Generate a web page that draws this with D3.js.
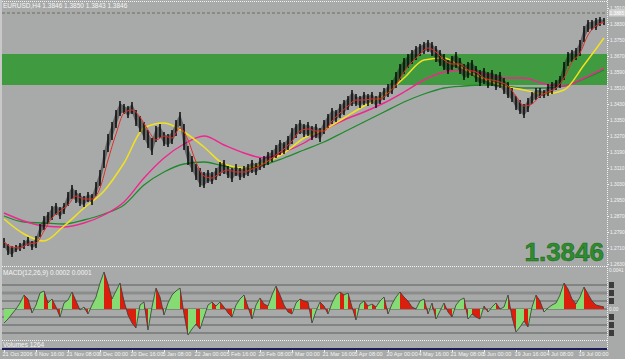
<!DOCTYPE html>
<html><head><meta charset="utf-8">
<script src="https://cdn.jsdelivr.net/npm/d3@7"></script>
<style>html,body{margin:0;padding:0;background:#a8aaaa;overflow:hidden}</style>
</head><body><svg id="c" width="625" height="359"></svg>
<script>
// ---- data (EURUSD, H4) ----
const priceHigh = [1.2760,1.2730,1.2720,1.2725,1.2735,1.2750,1.2765,1.2745,1.2770,1.2830,1.2870,1.2890,1.2920,1.2935,1.2915,1.2935,1.2990,1.3025,1.3000,1.2985,1.2970,1.2990,1.2980,1.3040,1.3100,1.3200,1.3280,1.3340,1.3400,1.3445,1.3430,1.3420,1.3440,1.3400,1.3370,1.3340,1.3300,1.3260,1.3320,1.3330,1.3290,1.3280,1.3300,1.3350,1.3390,1.3330,1.3220,1.3170,1.3130,1.3110,1.3090,1.3100,1.3090,1.3110,1.3140,1.3150,1.3120,1.3110,1.3130,1.3110,1.3120,1.3130,1.3150,1.3135,1.3160,1.3170,1.3190,1.3200,1.3225,1.3250,1.3240,1.3270,1.3310,1.3330,1.3350,1.3330,1.3340,1.3320,1.3330,1.3310,1.3350,1.3380,1.3410,1.3400,1.3430,1.3450,1.3470,1.3500,1.3480,1.3470,1.3490,1.3480,1.3490,1.3470,1.3490,1.3510,1.3530,1.3550,1.3590,1.3630,1.3660,1.3680,1.3700,1.3720,1.3730,1.3740,1.3750,1.3740,1.3720,1.3700,1.3680,1.3650,1.3670,1.3690,1.3660,1.3630,1.3640,1.3650,1.3620,1.3600,1.3610,1.3590,1.3600,1.3580,1.3590,1.3560,1.3540,1.3510,1.3470,1.3450,1.3430,1.3460,1.3490,1.3510,1.3510,1.3500,1.3530,1.3540,1.3550,1.3570,1.3640,1.3690,1.3700,1.3710,1.3750,1.3820,1.3850,1.3850,1.3860,1.3865,1.3860];
const priceLow = [1.2710,1.2675,1.2665,1.2690,1.2695,1.2705,1.2720,1.2700,1.2710,1.2765,1.2800,1.2830,1.2850,1.2875,1.2855,1.2880,1.2920,1.2955,1.2935,1.2920,1.2915,1.2940,1.2925,1.2970,1.3020,1.3110,1.3190,1.3250,1.3310,1.3370,1.3380,1.3360,1.3380,1.3320,1.3290,1.3250,1.3210,1.3175,1.3240,1.3260,1.3220,1.3215,1.3230,1.3270,1.3320,1.3200,1.3125,1.3090,1.3050,1.3015,1.3010,1.3035,1.3030,1.3050,1.3070,1.3080,1.3060,1.3040,1.3070,1.3050,1.3060,1.3070,1.3085,1.3075,1.3100,1.3110,1.3125,1.3140,1.3160,1.3175,1.3180,1.3200,1.3230,1.3260,1.3280,1.3265,1.3270,1.3250,1.3260,1.3240,1.3280,1.3310,1.3330,1.3340,1.3360,1.3375,1.3400,1.3420,1.3420,1.3410,1.3425,1.3420,1.3430,1.3410,1.3430,1.3450,1.3465,1.3480,1.3510,1.3550,1.3580,1.3610,1.3630,1.3650,1.3670,1.3680,1.3690,1.3670,1.3640,1.3620,1.3600,1.3580,1.3600,1.3610,1.3580,1.3550,1.3560,1.3570,1.3540,1.3520,1.3530,1.3510,1.3520,1.3500,1.3510,1.3480,1.3460,1.3440,1.3400,1.3380,1.3360,1.3390,1.3430,1.3450,1.3460,1.3460,1.3470,1.3480,1.3500,1.3510,1.3550,1.3620,1.3640,1.3650,1.3670,1.3740,1.3790,1.3800,1.3800,1.3820,1.3825];
// fast MA, one value every 2 bars
const maRed = [1.2740,1.2715,1.2710,1.2730,1.2735,1.2795,1.2860,1.2895,1.2925,1.2970,1.2955,1.2955,1.3010,1.3150,1.3280,1.3385,1.3400,1.3365,1.3300,1.3250,1.3270,1.3260,1.3310,1.3250,1.3140,1.3070,1.3060,1.3085,1.3100,1.3090,1.3090,1.3105,1.3120,1.3145,1.3175,1.3205,1.3245,1.3295,1.3305,1.3295,1.3295,1.3345,1.3385,1.3420,1.3450,1.3450,1.3455,1.3455,1.3485,1.3525,1.3590,1.3640,1.3680,1.3710,1.3690,1.3650,1.3630,1.3630,1.3600,1.3590,1.3560,1.3550,1.3540,1.3520,1.3470,1.3420,1.3430,1.3470,1.3490,1.3510,1.3560,1.3640,1.3685,1.3775,1.3820,1.3840];
// slower MAs, one value every 5 bars
const maYellow = [1.2855,1.2780,1.2745,1.2820,1.2910,1.2995,1.3135,1.3310,1.3335,1.3290,1.3215,1.3130,1.3110,1.3135,1.3185,1.3260,1.3300,1.3360,1.3420,1.3475,1.3560,1.3650,1.3660,1.3605,1.3555,1.3520,1.3500,1.3480,1.3500,1.3625,1.3760];
const maMagenta = [1.2885,1.2845,1.2820,1.2815,1.2835,1.2875,1.2940,1.3060,1.3160,1.3230,1.3270,1.3225,1.3185,1.3160,1.3190,1.3235,1.3300,1.3350,1.3390,1.3435,1.3490,1.3550,1.3590,1.3600,1.3580,1.3560,1.3560,1.3530,1.3520,1.3560,1.3610];
const maGreen = [1.2870,1.2840,1.2835,1.2830,1.2850,1.2880,1.2925,1.3025,1.3090,1.3130,1.3140,1.3120,1.3110,1.3125,1.3160,1.3200,1.3240,1.3290,1.3340,1.3390,1.3440,1.3480,1.3510,1.3520,1.3525,1.3520,1.3510,1.3510,1.3520,1.3555,1.3600];
const macdHist = [-0.0014,-0.0010,-0.0005,0.0000,0.0006,0.0014,0.0010,-0.0004,0.0004,0.0016,0.0018,0.0006,0.0010,0.0002,-0.0008,0.0006,0.0009,0.0017,0.0008,-0.0001,0.0002,-0.0005,0.0004,0.0012,0.0026,0.0037,0.0025,0.0010,0.0018,0.0026,0.0008,-0.0006,-0.0014,-0.0019,0.0004,0.0007,-0.0021,0.0002,0.0021,0.0012,-0.0006,0.0006,0.0014,0.0018,0.0021,-0.0005,-0.0026,-0.0020,-0.0015,-0.0020,-0.0008,0.0004,0.0007,0.0003,0.0007,0.0002,-0.0004,-0.0008,0.0004,0.0010,0.0014,0.0002,-0.0010,0.0004,0.0011,0.0005,0.0003,0.0014,0.0023,0.0014,0.0004,-0.0003,-0.0005,0.0006,0.0010,0.0008,0.0007,-0.0014,-0.0002,0.0007,0.0003,-0.0005,0.0006,0.0014,0.0017,0.0014,0.0016,0.0002,-0.0011,0.0005,0.0008,0.0003,0.0005,0.0002,0.0008,0.0012,-0.0005,0.0005,0.0012,0.0017,0.0012,0.0008,0.0002,0.0000,0.0008,0.0010,-0.0005,0.0006,-0.0010,-0.0002,0.0006,-0.0003,-0.0008,0.0004,0.0009,0.0011,-0.0010,-0.0005,-0.0008,-0.0010,0.0003,-0.0003,0.0002,0.0006,0.0000,0.0002,0.0014,-0.0008,-0.0023,-0.0018,-0.0012,-0.0018,0.0002,0.0014,0.0008,-0.0003,0.0001,0.0004,0.0006,0.0014,0.0026,0.0020,0.0010,0.0005,0.0012,0.0022,0.0015,0.0008,0.0004,0.0003,0.0002];
const priceTicks = [1.3910,1.3830,1.3750,1.3670,1.3590,1.3510,1.3430,1.3350,1.3270,1.3190,1.3110,1.3030,1.2950,1.2870,1.2790,1.2710,1.2630];
const macdLevels = [0.0024,0.0016,0.0008,0,-0.0008,-0.0016,-0.0024];
const timeLabels = ["21 Oct 2006","6 Nov 16:00","21 Nov 08:00","6 Dec 00:00","20 Dec 16:00","5 Jan 08:00","22 Jan 00:00","5 Feb 16:00","20 Feb 08:00","7 Mar 00:00","21 Mar 16:00","5 Apr 08:00","20 Apr 00:00","4 May 16:00","21 May 08:00","5 Jun 00:00","19 Jun 16:00","4 Jul 08:00","19 Jul 00:00"];
const zone = [1.3525, 1.3680];
const askPrice = 1.3885;
const lastPrice = "1.3846";
const titleText = "EURUSD,H4  1.3846 1.3850 1.3843 1.3846";
const macdTitle = "MACD(12,26,9)  0.0002 0.0001";
const volTitle = "Volumes  1264";

// ---- layout ----
const W = 625, H = 359;
const L = 2, R = 607;
const svg = d3.select("#c");
const n = priceHigh.length;
const x = d3.scaleLinear().domain([0, n - 1]).range([4, 604]);
const y = d3.scaleLinear().domain([1.2625, 1.3940]).range([265, 2]);
const yM = d3.scaleLinear().domain([-0.0031, 0.0041]).range([340, 268]);
const font = "'Liberation Sans', Arial, sans-serif";
const fmt4 = d3.format(".4f");

svg.append("rect").attr("width", W).attr("height", H).attr("fill", "#a8aaaa");
svg.append("rect").attr("x", 0).attr("y", 0).attr("width", 2).attr("height", 349).attr("fill", "#c8c8c8");

const defs = svg.append("defs");
defs.append("clipPath").attr("id", "cm").append("rect").attr("x", L).attr("y", 2).attr("width", R - L).attr("height", 263);
defs.append("clipPath").attr("id", "cd").append("rect").attr("x", L).attr("y", 268).attr("width", R - L).attr("height", 71);

// ---- main pane ----
const gm = svg.append("g").attr("clip-path", "url(#cm)");
gm.append("rect").attr("x", L).attr("width", R - L)
  .attr("y", y(zone[1])).attr("height", y(zone[0]) - y(zone[1])).attr("fill", "#3f9a40");

gm.append("line").attr("x1", L).attr("x2", R).attr("y1", y(askPrice)).attr("y2", y(askPrice))
  .attr("stroke", "#6c6c5c").attr("stroke-dasharray", "3,2");

const maLine = (arr, step, color, w) => {
  gm.append("path").datum(arr)
    .attr("d", d3.line().x((d, i) => x(i * step)).y(d => y(d)).curve(d3.curveMonotoneX))
    .attr("fill", "none").attr("stroke", color).attr("stroke-width", w);
};
maLine(maGreen, 5, "#1f8a2a", 1.3);
maLine(maMagenta, 5, "#f0268e", 1.4);
maLine(maYellow, 5, "#f2e21e", 1.5);

// dense bar body: faint band between highs and lows, then the bars
gm.append("path").datum(priceHigh)
  .attr("d", d3.area().x((d, i) => x(i)).y0((d, i) => y(priceLow[i]) - 2).y1(d => y(d) + 2))
  .attr("fill", "#151515").attr("opacity", 0.45);
gm.selectAll("line.bar").data(priceHigh).enter().append("line").attr("class", "bar")
  .attr("x1", (d, i) => x(i)).attr("x2", (d, i) => x(i))
  .attr("y1", d => y(d)).attr("y2", (d, i) => y(priceLow[i]))
  .attr("stroke", "#0a0a0a").attr("stroke-width", 1.5);

maLine(maRed, 2, "#e0302a", 1);

// big price
svg.append("text").attr("x", 604).attr("y", 261).attr("text-anchor", "end")
  .attr("font-family", font).attr("font-weight", "bold").attr("font-size", 26)
  .attr("fill", "#2f8c2f").attr("stroke", "#1d6a1d").attr("stroke-width", 0.6).text(lastPrice);

svg.append("text").attr("x", 3).attr("y", 8).attr("font-family", font).attr("font-size", 6.5)
  .attr("fill", "#f4f4f4").text(titleText);

// ---- MACD pane ----
const gd = svg.append("g").attr("clip-path", "url(#cd)");
macdLevels.forEach(v => {
  gd.append("line").attr("x1", L).attr("x2", R).attr("y1", yM(v)).attr("y2", yM(v))
    .attr("stroke", v === 0.0016 ? "#8c8c8c" : "#5c5c5c").attr("stroke-width", v === 0.0016 ? 3 : 1);
});
for (let i = 0; i < n - 1; i++) {
  const a = macdHist[i], b = macdHist[i + 1];
  const pts = [[x(i), yM(0)], [x(i), yM(a)], [x(i + 1), yM(b)], [x(i + 1), yM(0)]];
  gd.append("path").attr("d", "M" + pts.join("L") + "Z")
    .attr("fill", b >= a ? "#84dc72" : "#dc1e0c");
}
gd.append("path").datum(macdHist)
  .attr("d", d3.line().x((d, i) => x(i)).y(d => yM(d)))
  .attr("fill", "none").attr("stroke", "#3a3a3a").attr("stroke-width", 0.8);
svg.append("text").attr("x", 3).attr("y", 275).attr("font-family", font).attr("font-size", 6.5)
  .attr("fill", "#f4f4f4").text(macdTitle);

// MACD level markers on right
macdLevels.filter(v => v !== 0).forEach(v => {
  svg.append("rect").attr("x", 609).attr("y", yM(v) - 3).attr("width", 5).attr("height", 6).attr("fill", "#3c3c3c");
});
const smallText = (xx, yy, t) => svg.append("text").attr("x", xx).attr("y", yy)
  .attr("font-family", font).attr("font-size", 4.8).attr("fill", "#f4f4f4").text(t);
smallText(609, 272, fmt4(yM.domain()[1]));
smallText(609, yM(0) + 2, "0.00");

// ---- volume pane ----
svg.append("text").attr("x", 3).attr("y", 347).attr("font-family", font).attr("font-size", 6.5)
  .attr("fill", "#f4f4f4").text(volTitle);
svg.append("rect").attr("x", L).attr("y", 348).attr("width", R - L).attr("height", 2).attr("fill", "#1c1c5a");

// ---- separators ----
const dotted = (x1, y1, x2, y2) => svg.append("line").attr("x1", x1).attr("y1", y1).attr("x2", x2).attr("y2", y2)
  .attr("stroke", "#f2f2f2").attr("stroke-width", 1).attr("stroke-dasharray", "1,1");
dotted(L, 1.5, R, 1.5);
dotted(L, 266.5, R, 266.5);
dotted(L, 340.5, R, 340.5);
dotted(R + 0.5, 0, R + 0.5, 350);

// ---- price axis ----
const ay = svg.append("g").attr("transform", `translate(${R + 1},0)`)
  .call(d3.axisRight(y).tickValues(priceTicks).tickSize(1).tickPadding(1).tickFormat(fmt4));
ay.select(".domain").remove();
ay.selectAll("line").attr("stroke", "#f2f2f2");
ay.selectAll("text").attr("font-family", font).attr("font-size", 4.8).attr("fill", "#f4f4f4");

svg.append("rect").attr("x", 609).attr("y", y(askPrice) - 3.5).attr("width", 16).attr("height", 7).attr("fill", "#d0d0d0");
smallText(609.5, y(askPrice) + 2, fmt4(askPrice)).attr("fill", "#ffffff");

// ---- time axis ----
const tIdx = timeLabels.map((d, i) => i * 8);
const ax = svg.append("g").attr("transform", "translate(0,350)")
  .call(d3.axisBottom(x).tickValues(tIdx).tickSize(2).tickFormat((d, i) => timeLabels[i]));
ax.select(".domain").remove();
ax.selectAll("line").attr("stroke", "#f2f2f2");
ax.selectAll("text").attr("font-family", font).attr("font-size", 5.5).attr("fill", "#f4f4f4")
  .attr("text-anchor", "start").attr("dx", -2).attr("dy", 1);
</script></body></html>
